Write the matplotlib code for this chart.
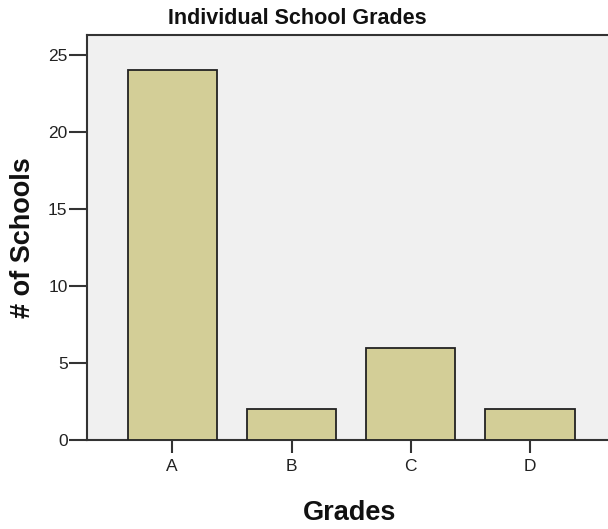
import matplotlib
matplotlib.use("Agg")
import matplotlib.pyplot as plt

grades = ["A", "B", "C", "D"]
counts = [24, 2, 6, 2]
yticks = [0, 5, 10, 15, 20, 25]

plt.rcParams['font.family'] = ['Liberation Sans', 'DejaVu Sans']

W, H = 608, 529
fig = plt.figure(figsize=(W/100, H/100), dpi=100)
fig.patch.set_facecolor('white')
ax = fig.add_axes([87/W, 89/H, 0.862, 405/H])
ax.set_facecolor('#F0F0F0')

x = list(range(len(grades)))
ax.bar(x, counts, width=0.75, color='#D3CE97', edgecolor='#222222', linewidth=1.3, zorder=3)

ax.set_xlim(-0.715, 3.68)
ax.set_ylim(0, 26.3)
ax.set_xticks(x)
ax.set_xticklabels(grades)
ax.set_yticks(yticks)

for s in ['left', 'bottom', 'top']:
    ax.spines[s].set_color('#333333')
    ax.spines[s].set_linewidth(1.5)
ax.spines['right'].set_visible(False)

ax.tick_params(axis='both', direction='out', width=1.5, color='#333333',
               labelsize=12.5, labelcolor='#222222')
ax.tick_params(axis='y', length=13, pad=1)
ax.tick_params(axis='x', length=9, pad=5)

fig.text(350/W, 1 - 513/H, 'Grades', ha='center', va='center',
         fontsize=19.5, fontweight='bold', color='#111111')
fig.text(23/W, 1 - 238/H, '# of Schools', ha='center', va='center', rotation=90,
         fontsize=19.5, fontweight='bold', color='#111111')
fig.text(297/W, 1 - 19/H, 'Individual School Grades', ha='center', va='center',
         fontsize=15.5, fontweight='bold', color='#111111')

fig.savefig('out.png', dpi=100)
